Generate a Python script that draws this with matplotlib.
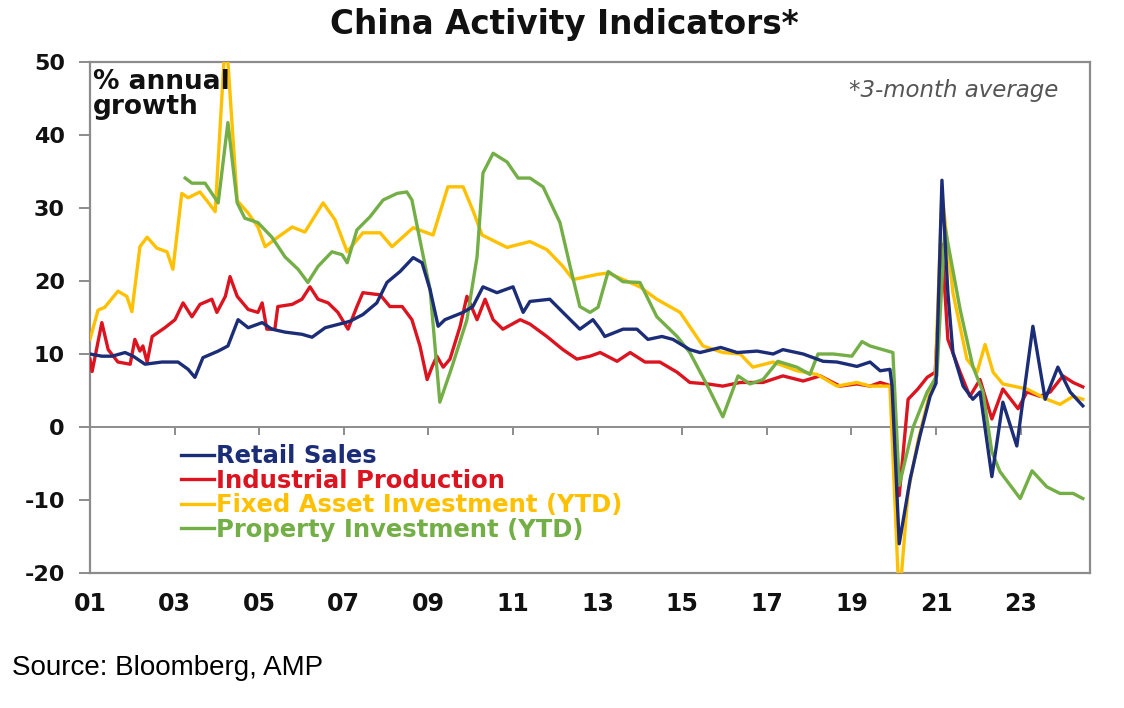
import matplotlib
matplotlib.use("Agg")
import matplotlib.pyplot as plt

plt.rcParams['font.family'] = ['DejaVu Sans']
plt.rcParams['axes.unicode_minus'] = False

# values (% annual growth, 3-month average), x in decimal years
retail_x = [2001.00, 2001.28, 2001.52, 2001.83, 2002.02, 2002.30, 2002.70, 2003.08, 2003.32, 2003.48,
            2003.67, 2004.03, 2004.26, 2004.50, 2004.74, 2005.07, 2005.30, 2005.61, 2006.01, 2006.25,
            2006.56, 2007.03, 2007.15, 2007.45, 2007.78, 2008.02, 2008.33, 2008.64, 2008.85, 2009.04,
            2009.23, 2009.39, 2009.82, 2010.05, 2010.29, 2010.62, 2011.00, 2011.24, 2011.40, 2011.87,
            2012.18, 2012.58, 2012.89, 2013.06, 2013.17, 2013.60, 2013.93, 2014.19, 2014.52, 2014.78,
            2015.18, 2015.42, 2015.91, 2016.30, 2016.77, 2017.15, 2017.38, 2017.86, 2018.33, 2018.66,
            2019.13, 2019.44, 2019.68, 2019.91, 2019.96, 2020.13, 2020.39, 2020.62, 2020.86, 2021.00,
            2021.14, 2021.28, 2021.40, 2021.64, 2021.87, 2022.04, 2022.32, 2022.58, 2022.91, 2023.29,
            2023.58, 2023.88, 2024.17, 2024.47]
retail = [10.0, 9.7, 9.7, 10.2, 9.7, 8.6, 8.9, 8.9, 7.9, 6.8,
          9.5, 10.4, 11.1, 14.7, 13.6, 14.3, 13.4, 13.0, 12.7, 12.3,
          13.6, 14.3, 14.5, 15.4, 17.0, 19.8, 21.3, 23.2, 22.5, 18.8,
          13.8, 14.7, 15.7, 16.5, 19.2, 18.4, 19.2, 15.7, 17.2, 17.5,
          15.7, 13.4, 14.7, 13.4, 12.4, 13.4, 13.4, 12.0, 12.4, 12.0,
          10.6, 10.2, 10.9, 10.2, 10.4, 10.0, 10.6, 10.0, 9.0, 8.9,
          8.3, 8.9, 7.7, 7.9, 5.6, -16.0, -7.1, -1.2, 4.2, 6.0,
          33.8, 18.4, 10.2, 5.6, 3.8, 4.8, -6.8, 3.4, -2.6, 13.8,
          3.8, 8.2, 4.8, 2.9]

indprod_x = [2001.00, 2001.05, 2001.28, 2001.43, 2001.66, 2001.95, 2002.06, 2002.18, 2002.25, 2002.35,
             2002.47, 2002.77, 2003.01, 2003.20, 2003.41, 2003.60, 2003.88, 2004.00, 2004.20, 2004.31,
             2004.48, 2004.74, 2004.97, 2005.07, 2005.18, 2005.37, 2005.44, 2005.78, 2006.01, 2006.20,
             2006.39, 2006.63, 2006.86, 2007.10, 2007.31, 2007.45, 2007.86, 2008.09, 2008.38, 2008.61,
             2008.80, 2008.97, 2009.09, 2009.20, 2009.35, 2009.51, 2009.75, 2009.91, 2010.15, 2010.34,
             2010.53, 2010.76, 2011.17, 2011.40, 2011.80, 2012.18, 2012.51, 2012.82, 2013.06, 2013.46,
             2013.77, 2014.12, 2014.47, 2014.88, 2015.18, 2015.60, 2015.96, 2016.37, 2016.91, 2017.38,
             2017.86, 2018.26, 2018.73, 2019.13, 2019.44, 2019.68, 2019.96, 2020.13, 2020.34, 2020.57,
             2020.79, 2020.98, 2021.14, 2021.28, 2021.57, 2021.80, 2022.04, 2022.32, 2022.58, 2022.94,
             2023.15, 2023.46, 2023.70, 2024.00, 2024.24, 2024.47]
indprod = [9.3, 7.6, 14.3, 10.6, 8.9, 8.6, 12.0, 10.4, 11.1, 8.9,
           12.4, 13.6, 14.7, 17.0, 15.1, 16.8, 17.5, 15.7, 17.9, 20.6,
           17.9, 16.1, 15.7, 17.0, 13.4, 13.4, 16.5, 16.8, 17.5, 19.2,
           17.5, 17.0, 15.7, 13.4, 16.5, 18.4, 18.1, 16.5, 16.5, 14.7,
           11.1, 6.5, 8.3, 9.7, 8.2, 9.3, 13.8, 17.9, 14.7, 17.5,
           14.7, 13.4, 14.7, 14.1, 12.4, 10.6, 9.3, 9.7, 10.2, 9.0,
           10.2, 8.9, 8.9, 7.5, 6.1, 5.9, 5.6, 6.1, 6.1, 7.0,
           6.3, 7.0, 5.6, 5.9, 5.6, 6.1, 5.6, -9.4, 3.8, 5.2,
           6.8, 7.5, 25.0, 12.0, 7.5, 4.2, 6.5, 1.1, 5.2, 2.5,
           4.8, 4.2, 4.8, 7.0, 6.1, 5.5]

fai_x = [2001.00, 2001.19, 2001.35, 2001.66, 2001.87, 2001.99, 2002.18, 2002.35, 2002.58, 2002.82,
         2002.96, 2003.17, 2003.32, 2003.60, 2003.79, 2003.96, 2004.17, 2004.26, 2004.48, 2004.74,
         2004.97, 2005.14, 2005.44, 2005.78, 2006.08, 2006.51, 2006.79, 2007.08, 2007.45, 2007.86,
         2008.14, 2008.64, 2009.11, 2009.46, 2009.82, 2010.05, 2010.27, 2010.86, 2011.40, 2011.80,
         2012.18, 2012.42, 2012.99, 2013.25, 2014.00, 2014.40, 2014.95, 2015.49, 2015.96, 2016.37,
         2016.67, 2017.15, 2017.71, 2018.19, 2018.66, 2019.13, 2019.44, 2019.91, 2020.13, 2020.34,
         2020.57, 2020.86, 2020.98, 2021.14, 2021.40, 2021.73, 2021.97, 2022.16, 2022.35, 2022.58,
         2023.15, 2023.62, 2023.93, 2024.24, 2024.47]
fai = [12.0, 16.0, 16.4, 18.6, 17.9, 15.8, 24.7, 26.0, 24.5, 24.0,
       21.6, 32.0, 31.4, 32.2, 30.8, 29.5, 50.5, 50.0, 31.0, 29.3,
       27.4, 24.7, 26.0, 27.4, 26.7, 30.7, 28.4, 24.0, 26.6, 26.6,
       24.7, 27.3, 26.3, 32.9, 32.9, 29.7, 26.3, 24.6, 25.4, 24.3,
       22.0, 20.2, 20.9, 21.1, 19.2, 17.5, 15.7, 11.1, 10.2, 10.0,
       8.2, 8.9, 7.7, 7.2, 5.6, 6.1, 5.6, 5.6, -24.0, -8.9,
       -2.0, 4.8, 6.5, 32.0, 18.4, 9.3, 7.5, 11.3, 7.5, 5.9,
       5.2, 3.8, 3.1, 4.2, 3.8]

prop_x = [2003.25, 2003.41, 2003.72, 2004.03, 2004.26, 2004.48, 2004.66, 2004.97, 2005.30, 2005.61,
          2005.92, 2006.15, 2006.39, 2006.72, 2006.96, 2007.08, 2007.31, 2007.62, 2007.93, 2008.26,
          2008.49, 2008.61, 2008.80, 2009.04, 2009.27, 2009.56, 2009.91, 2010.15, 2010.29, 2010.53,
          2010.86, 2011.12, 2011.40, 2011.71, 2012.11, 2012.35, 2012.58, 2012.82, 2013.01, 2013.25,
          2013.60, 2014.00, 2014.40, 2014.88, 2015.18, 2015.60, 2015.96, 2016.32, 2016.60, 2016.91,
          2017.26, 2017.71, 2018.02, 2018.21, 2018.57, 2019.01, 2019.25, 2019.44, 2019.98, 2020.13,
          2020.46, 2020.79, 2021.02, 2021.21, 2021.57, 2021.87, 2022.11, 2022.32, 2022.51, 2022.99,
          2023.27, 2023.62, 2023.93, 2024.24, 2024.47]
prop = [34.1, 33.4, 33.4, 30.7, 41.7, 30.7, 28.6, 28.0, 26.0, 23.3,
        21.6, 19.8, 22.0, 24.0, 23.6, 22.5, 27.0, 28.8, 31.1, 32.0,
        32.2, 31.1, 25.6, 18.8, 3.4, 8.3, 14.7, 23.3, 34.8, 37.5,
        36.3, 34.1, 34.1, 32.9, 28.0, 22.0, 16.5, 15.7, 16.4, 21.3,
        19.9, 19.8, 15.1, 12.4, 10.2, 5.6, 1.4, 7.0, 5.9, 6.5,
        9.0, 8.2, 7.2, 10.0, 10.0, 9.7, 11.7, 11.1, 10.2, -8.0,
        0.0, 4.8, 7.0, 27.4, 16.1, 8.3, 4.8, -3.4, -6.1, -9.8,
        -6.0, -8.2, -9.1, -9.1, -9.8]

tick_years = list(range(2001, 2024, 2))
tick_labels = [f"{y % 100:02d}" for y in tick_years]

navy = '#1c2d78'
red = '#dc1420'
gold = '#ffc000'
green = '#74ae46'
frame = '#8c8c8c'
ink = '#111111'

fig = plt.figure(figsize=(11.24, 7.08), dpi=100)
ax = fig.add_axes([90 / 1124, 1 - 573 / 708, 1000 / 1124, 511 / 708])

ax.plot(retail_x, retail, color=navy, lw=2.4, label='Retail Sales', zorder=4)
ax.plot(indprod_x, indprod, color=red, lw=2.4, label='Industrial Production', zorder=3)
ax.plot(fai_x, fai, color=gold, lw=2.4, label='Fixed Asset Investment (YTD)', zorder=3)
ax.plot(prop_x, prop, color=green, lw=2.4, label='Property Investment (YTD)', zorder=3)

ax.set_xlim(2001.0, 2024.64)
ax.set_ylim(-20, 50)
ax.set_yticks(range(-20, 51, 10))
ax.set_xticks(tick_years)
ax.set_xticklabels(tick_labels)

for s in ax.spines.values():
    s.set_color(frame)
    s.set_linewidth(1.6)
ax.tick_params(axis='y', direction='out', length=8, width=1.4, color=frame,
               labelsize=16, pad=10)
ax.tick_params(axis='x', length=0, labelsize=17, pad=14)
for lbl in ax.get_xticklabels() + ax.get_yticklabels():
    lbl.set_fontweight('bold')
    lbl.set_color(ink)

# zero line carrying the year tick marks
zero = ax.secondary_xaxis((0 - (-20)) / 70)
zero.set_xticks(tick_years)
zero.tick_params(axis='x', direction='out', length=6, width=1.4, color=frame, labelbottom=False)
zero.spines['bottom'].set_color(frame)
zero.spines['bottom'].set_linewidth(1.4)

ax.text(0.003, 0.986, '% annual\ngrowth', transform=ax.transAxes, ha='left', va='top',
        fontsize=19, fontweight='bold', color=ink, linespacing=0.95)
ax.text(0.968, 0.945, '*3-month average', transform=ax.transAxes, ha='right', va='center',
        fontsize=16.5, style='italic', color='#555555')

leg = ax.legend(loc='upper left', bbox_to_anchor=(0.091, 0.252), frameon=False,
                prop={'weight': 'bold', 'size': 17.5}, labelcolor='linecolor',
                handlelength=1.35, handletextpad=0.1, labelspacing=0.02,
                borderpad=0, borderaxespad=0)

fig.text(0.502, 0.966, 'China Activity Indicators*', ha='center', va='center',
         fontsize=23.5, fontweight='bold', color=ink)
fig.text(12 / 1124, 1 - 668 / 708, 'Source: Bloomberg, AMP', ha='left', va='center',
         fontsize=20, color='#000000', family='Liberation Sans')

fig.savefig('out.png', dpi=100)
